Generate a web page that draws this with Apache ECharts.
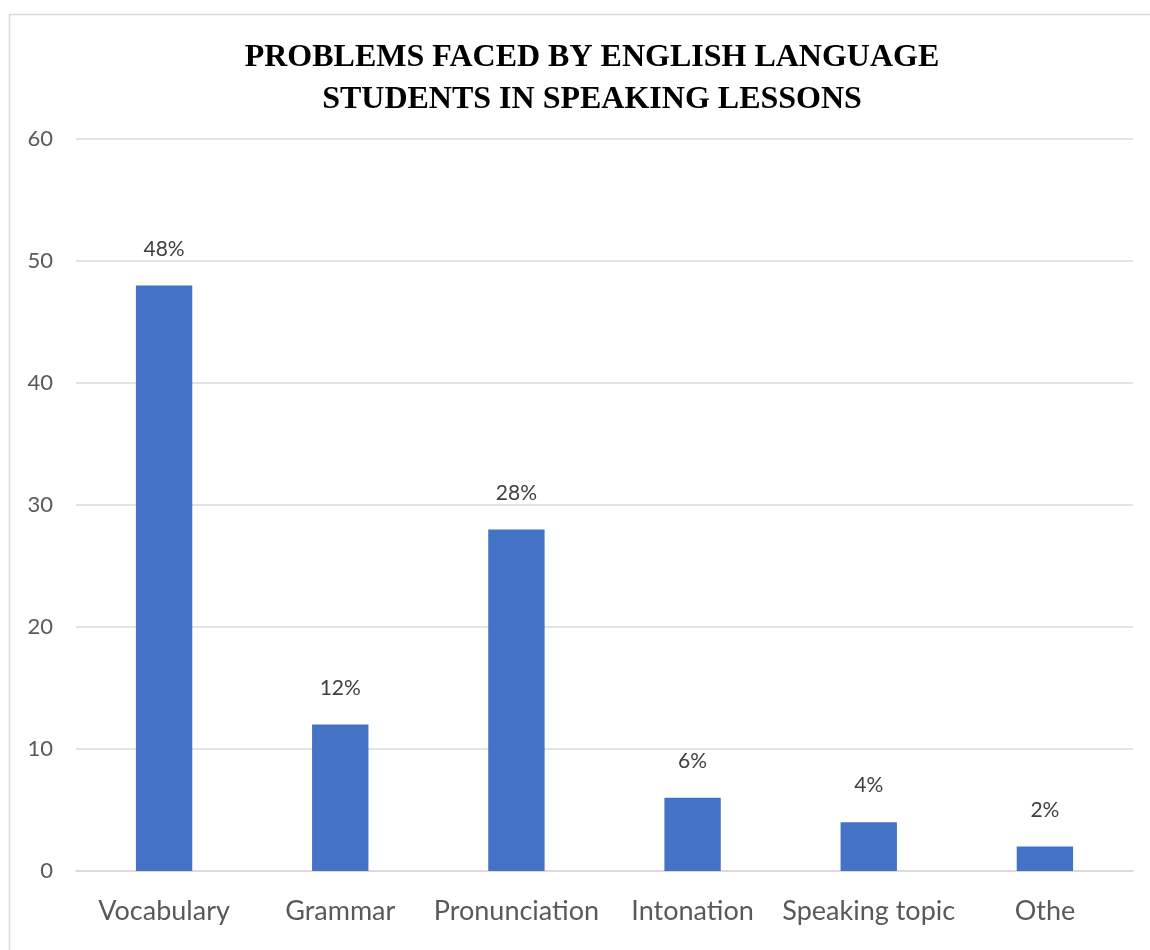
<!DOCTYPE html>
<html>
<head>
<meta charset="utf-8">
<script src="https://cdn.jsdelivr.net/npm/echarts@6/dist/echarts.min.js"></script>
<style>
  html, body { margin: 0; padding: 0; background: #fff; }
  #chart { width: 1150px; height: 950px; }
</style>
</head>
<body>
<div id="chart"></div>
<script>
// Share of students reporting each problem
const categories = ['Vocabulary', 'Grammar', 'Pronunciation', 'Intonation', 'Speaking topic', 'Othe'];
const values = [48, 12, 28, 6, 4, 2];
const yTicks = [0, 10, 20, 30, 40, 50, 60];

const chart = echarts.init(document.getElementById('chart'), null, { renderer: 'canvas' });

const labelFont = 'Lato, "Open Sans", "DejaVu Sans", sans-serif';

chart.setOption({
  backgroundColor: '#ffffff',
  animation: false,
  graphic: [{
    type: 'rect',
    shape: { x: 9.5, y: 14.5, width: 1170, height: 980 },
    style: { fill: 'none', stroke: '#d9d9d9', lineWidth: 1.5 },
    silent: true
  }],
  title: {
    text: 'PROBLEMS FACED BY ENGLISH LANGUAGE\nSTUDENTS IN SPEAKING LESSONS',
    left: 587,
    textAlign: 'center',
    top: 32,
    textStyle: {
      fontFamily: '"Liberation Serif", "Times New Roman", serif',
      fontWeight: 'bold',
      fontSize: 32,
      lineHeight: 42,
      color: '#000000'
    }
  },
  grid: { left: 76, right: 17, top: 139, bottom: 79, containLabel: false },
  xAxis: {
    type: 'category',
    data: categories,
    axisLine: { show: true, lineStyle: { color: '#d9d9d9', width: 1.5 } },
    axisTick: { show: false },
    axisLabel: {
      color: '#595959',
      fontFamily: labelFont,
      fontSize: 27,
      margin: 27,
      interval: 0
    }
  },
  yAxis: {
    type: 'value',
    min: yTicks[0],
    max: yTicks[yTicks.length - 1],
    interval: 10,
    axisLine: { show: false },
    axisTick: { show: false },
    splitLine: { lineStyle: { color: '#d9d9d9', width: 1.5 } },
    axisLabel: {
      color: '#595959',
      fontFamily: labelFont,
      fontSize: 22,
      margin: 23
    }
  },
  series: [{
    type: 'bar',
    data: values,
    barWidth: '32%',
    itemStyle: { color: '#4472C4' },
    label: {
      show: true,
      position: 'top',
      distance: 26,
      formatter: '{c}%',
      color: '#404040',
      fontFamily: labelFont,
      fontSize: 21
    }
  }]
});
</script>
</body>
</html>
